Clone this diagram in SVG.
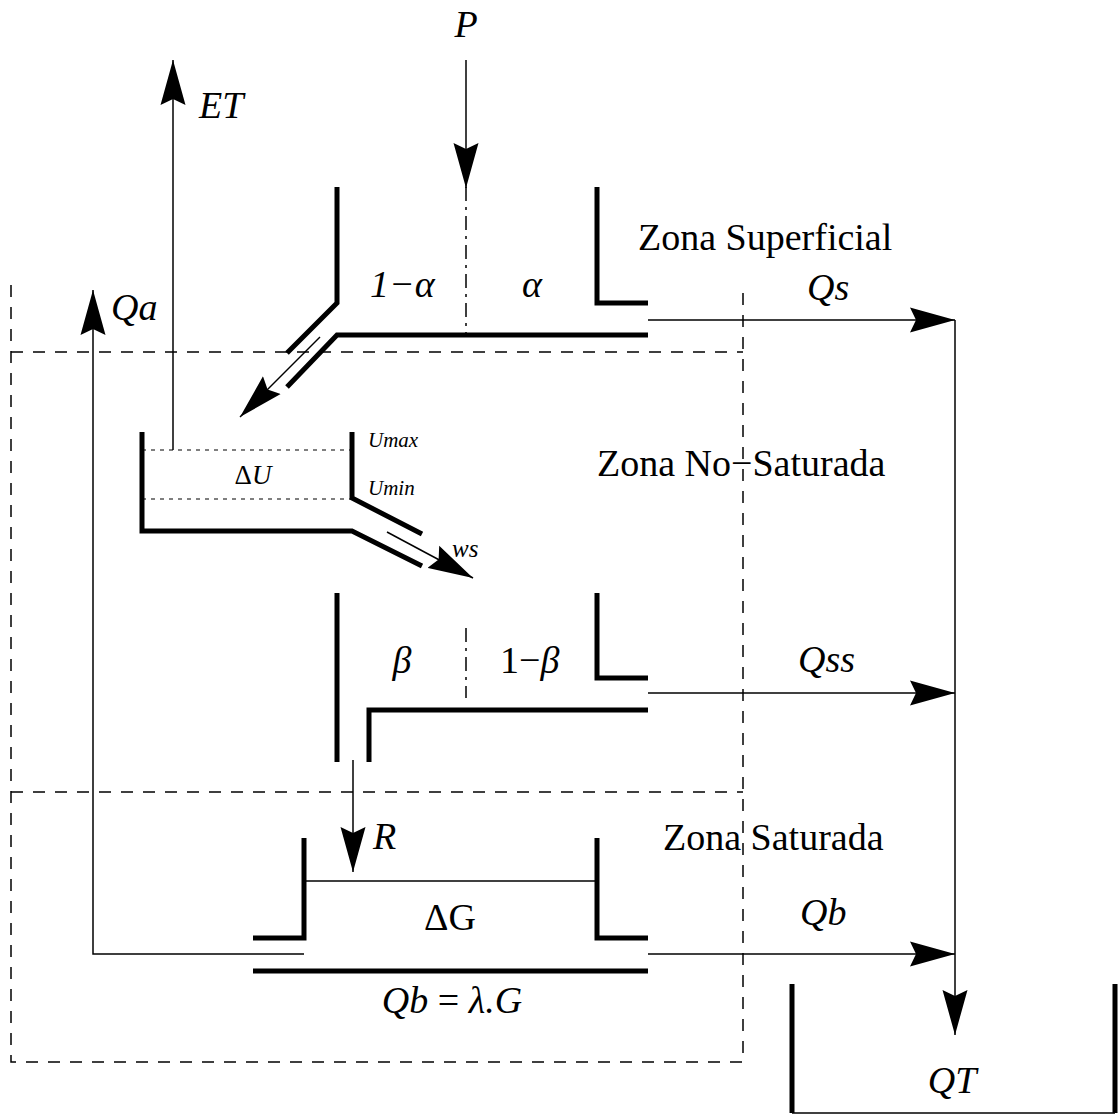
<svg xmlns="http://www.w3.org/2000/svg" width="1119" height="1115" viewBox="0 0 1119 1115">
<style>
.thick{fill:none;stroke:#000;stroke-width:5;stroke-linejoin:miter;stroke-linecap:butt}
.thin{fill:none;stroke:#000;stroke-width:1.5}
.zone{fill:none;stroke:#000;stroke-width:1.5;stroke-dasharray:12 10}
.div{fill:none;stroke:#000;stroke-width:1.5;stroke-dasharray:14 6 3 6}
.dot{fill:none;stroke:#000;stroke-width:1.2;stroke-dasharray:4 5}
.conn{fill:none;stroke:#000;stroke-width:1.5;marker-end:url(#arr)}
text{font-family:"Liberation Serif","Times New Roman",serif;fill:#000}
.it{font-style:italic}
.l{font-size:38px}
.s{font-size:21px}
</style>
<defs>
<marker id="arr" viewBox="0 0 46 26" refX="45" refY="13" markerWidth="46" markerHeight="26" markerUnits="userSpaceOnUse" orient="auto">
<path d="M0,0.5 L45,13 L0,25.5 L6,13 Z" fill="#000"/>
</marker>
</defs>
<rect width="1119" height="1115" fill="#fff"/>
<g id="zones">
<path class="zone" d="M11,285 V1062 H743 V285"/>
<path class="zone" d="M11,352 H743"/>
<path class="zone" d="M11,792 H743"/>
<text class="l" x="638" y="250">Zona Superficial</text>
<text class="l" x="597" y="476">Zona No−Saturada</text>
<text class="l" x="663" y="850">Zona Saturada</text>
</g>
<g id="surface-bucket">
<polyline class="thick" points="337,187 337,303 287,353"/>
<polyline class="thick" points="287,387 337,335 648,335"/>
<polyline class="thick" points="597,187 597,303 648,303"/>
<line class="div" x1="466" y1="187" x2="466" y2="335"/>
<text class="l it" x="370" y="297">1−α</text>
<text class="l it" x="532" y="297" text-anchor="middle">α</text>
</g>
<g id="soil-bucket">
<polyline class="thick" points="142,432 142,531 352,531 422,566"/>
<polyline class="thick" points="352,432 352,498 422,534"/>
<line class="dot" x1="142" y1="450" x2="352" y2="450"/>
<line class="dot" x1="142" y1="499" x2="352" y2="499"/>
<text x="253" y="484" font-size="27" text-anchor="middle">Δ<tspan class="it">U</tspan></text>
<text class="s it" x="368" y="447">Umax</text>
<text class="s it" x="368" y="495">Umin</text>
</g>
<g id="subsurface-bucket">
<polyline class="thick" points="337,593 337,762"/>
<polyline class="thick" points="369,762 369,710 648,710"/>
<polyline class="thick" points="597,593 597,678 648,678"/>
<line class="div" x1="466" y1="628" x2="466" y2="698"/>
<text class="l it" x="402" y="673" text-anchor="middle">β</text>
<text class="l" x="500" y="673">1−<tspan class="it">β</tspan></text>
</g>
<g id="ground-bucket">
<polyline class="thick" points="253,938 304,938 304,838"/>
<polyline class="thick" points="597,838 597,938 648,938"/>
<line class="thick" x1="253" y1="971" x2="648" y2="971"/>
<line class="thin" x1="304" y1="881" x2="597" y2="881"/>
<text class="l" x="450" y="930" text-anchor="middle">ΔG</text>
<text class="l" x="452" y="1013" text-anchor="middle"><tspan class="it">Qb</tspan> = <tspan class="it">λ.G</tspan></text>
</g>
<g id="qt-bucket">
<line class="thick" x1="792" y1="984" x2="792" y2="1113"/>
<line class="thick" x1="1115" y1="984" x2="1115" y2="1113"/>
<line class="thin" x1="792" y1="1113" x2="1115" y2="1113"/>
<text class="l it" x="952" y="1093" text-anchor="middle">QT</text>
</g>
<g id="connectors">
<polyline class="conn" points="466,60 466,188"/>
<polyline class="conn" points="173,450 173,60"/>
<polyline class="conn" points="320,337 240,417"/>
<polyline class="conn" points="387,532 473,578"/>
<polyline class="conn" points="304,954 93,954 93,290"/>
<polyline class="conn" points="648,320 955,320"/>
<polyline class="conn" points="648,693 955,693"/>
<polyline class="conn" points="648,954 955,954"/>
<polyline class="conn" points="955,320 955,1035"/>
<polyline class="conn" points="353,760 353,872"/>
</g>
<g id="labels">
<text class="l it" x="466" y="37" text-anchor="middle">P</text>
<text class="l it" x="199" y="118">ET</text>
<text class="l it" x="111" y="320">Qa</text>
<text class="l it" x="807" y="300">Qs</text>
<text class="l it" x="798" y="672">Qss</text>
<text class="l it" x="800" y="925">Qb</text>
<text class="l it" x="373" y="849">R</text>
<text x="452" y="557" font-size="25" class="it">ws</text>
</g>
</svg>
